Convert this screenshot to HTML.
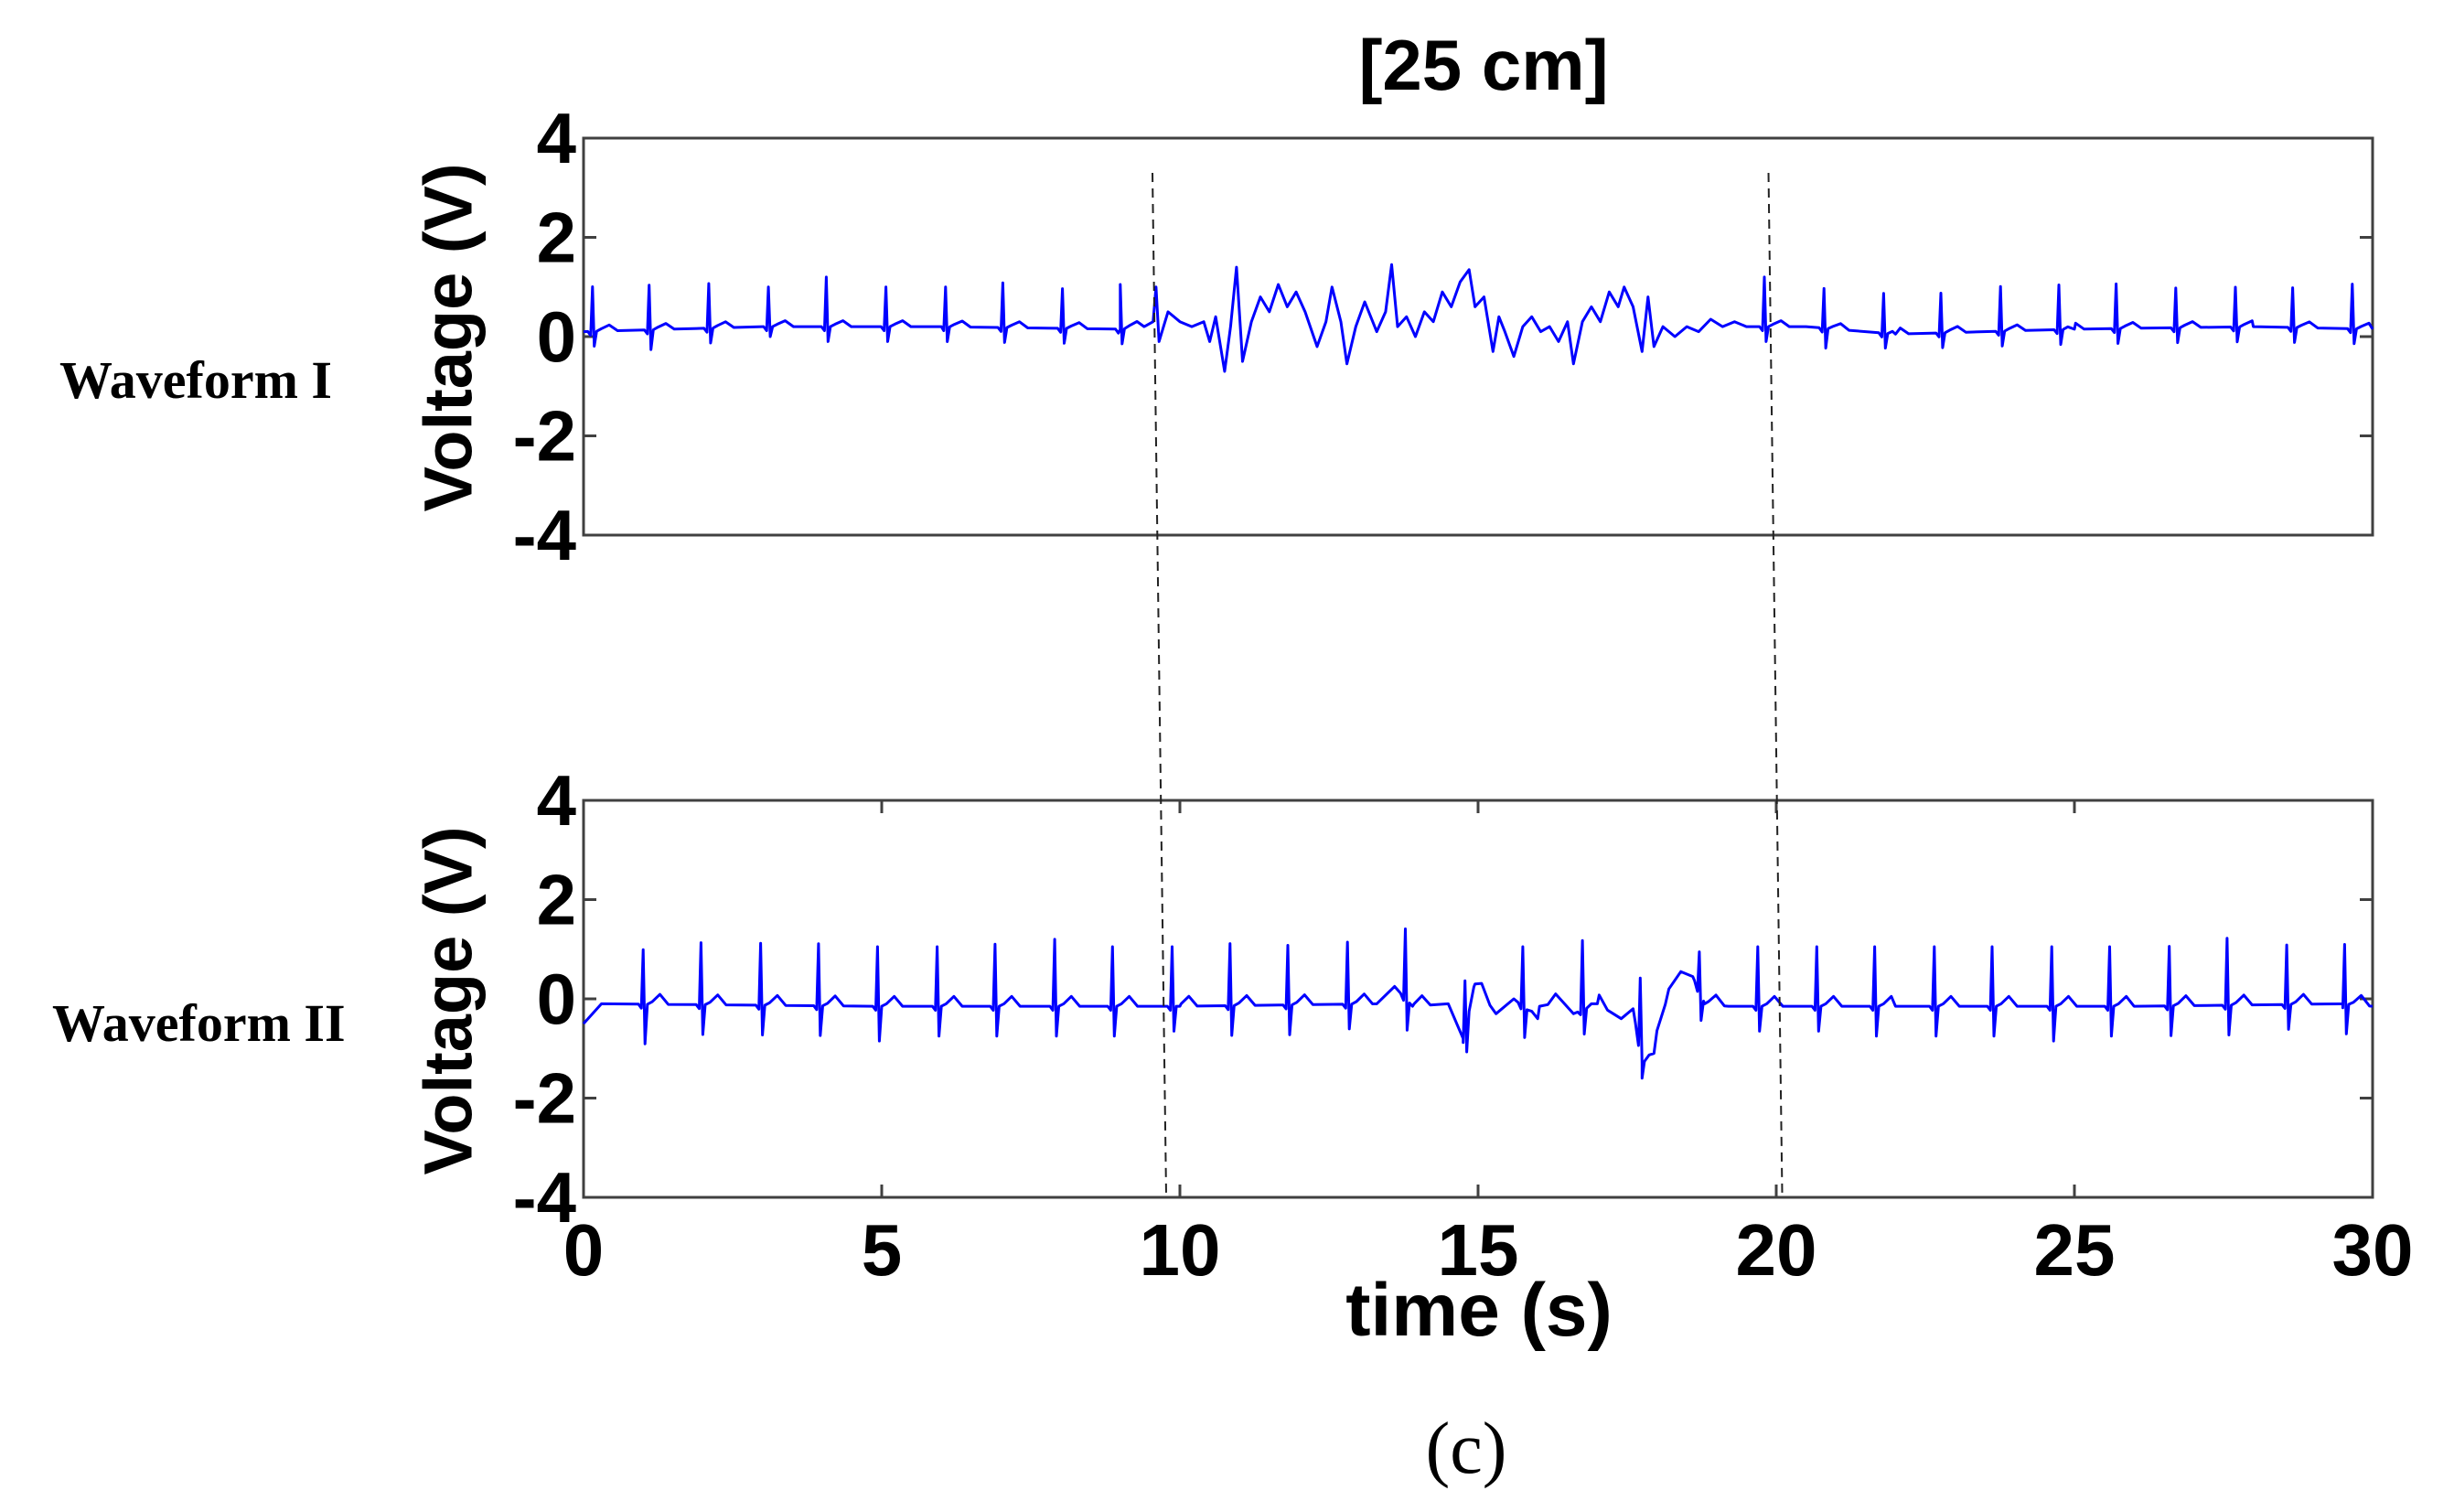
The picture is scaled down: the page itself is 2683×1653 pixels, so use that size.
<!DOCTYPE html>
<html><head><meta charset="utf-8"><style>
body{margin:0;background:#fff;}
svg{display:block;}
text{font-family:"Liberation Sans",Arial,sans-serif;font-weight:bold;fill:#000;}
.serif{font-family:"Liberation Serif","Times New Roman",serif;}
</style></head><body>
<svg id="chart" width="2683" height="1653" viewBox="0 0 2683 1653">
<text x="1622" y="98" font-size="78" text-anchor="middle">[25 cm]</text>
<text class="serif" x="65" y="435" font-size="58">Waveform I</text>
<text class="serif" x="57" y="1138" font-size="58">Waveform II</text>
<text x="490" y="369" font-size="74" text-anchor="middle" dominant-baseline="central" transform="rotate(-90 490 369)">Voltage (V)</text>
<text x="490" y="1094" font-size="74" text-anchor="middle" dominant-baseline="central" transform="rotate(-90 490 1094)">Voltage (V)</text>
<text x="1617" y="1460" font-size="82" text-anchor="middle">time (s)</text>
<text class="serif" x="1603" y="1610" font-size="80" text-anchor="middle" style="font-weight:normal">(c)</text>
<g id="plots"></g>
</svg>
<script>
// ---- data ----
const xTicks = [0, 5, 10, 15, 20, 25, 30];
const yTicks = [-4, -2, 0, 2, 4];
// Waveform I: beat times, R amplitude, S amplitude (relative to baseline)
const beatsI = [0.15, 1.1, 2.1, 3.1, 4.07, 5.07, 6.07, 7.03, 8.03, 9.0, 19.8, 20.8, 21.8, 22.76, 23.76, 24.74, 25.7, 26.7, 27.7, 28.66, 29.66];
const rampI  = [0.9, 0.9, 0.9, 0.8, 1.0, 0.8, 0.8, 0.9, 0.8, 0.9, 1.0, 0.8, 0.8, 0.8, 0.9, 0.9, 0.9, 0.8, 0.8, 0.8, 0.9];
const sampI  = [-0.3, -0.4, -0.3, -0.2, -0.3, -0.3, -0.3, -0.3, -0.3, -0.3, -0.3, -0.4, -0.3, -0.3, -0.3, -0.3, -0.3, -0.3, -0.3, -0.3, -0.3];
// Waveform I baseline / artifact points
const baseTI = [0, 3, 6, 9, 9.4, 9.55, 9.6, 9.65, 9.8, 10.0, 10.2, 10.4, 10.5, 10.6, 10.75, 10.85, 10.95, 11.05, 11.2, 11.35, 11.5, 11.65, 11.8, 11.95, 12.1, 12.3, 12.45, 12.55, 12.7, 12.8, 12.95, 13.1, 13.3, 13.45, 13.55, 13.65, 13.8, 13.95, 14.1, 14.25, 14.4, 14.55, 14.7, 14.85, 14.95, 15.1, 15.25, 15.35, 15.45, 15.6, 15.75, 15.9, 16.05, 16.2, 16.35, 16.5, 16.6, 16.75, 16.9, 17.05, 17.2, 17.35, 17.45, 17.6, 17.75, 17.85, 17.95, 18.1, 18.3, 18.5, 18.7, 18.9, 19.1, 19.3, 19.5, 20.5, 22, 25, 28, 30];
const baseVI = [0.1, 0.2, 0.2, 0.15, 0.2, 0.3, 1.0, -0.1, 0.5, 0.3, 0.2, 0.3, -0.1, 0.4, -0.7, 0.2, 1.4, -0.5, 0.3, 0.8, 0.5, 1.05, 0.6, 0.9, 0.5, -0.2, 0.3, 1.0, 0.3, -0.55, 0.2, 0.7, 0.1, 0.5, 1.45, 0.2, 0.4, 0.0, 0.5, 0.3, 0.9, 0.6, 1.1, 1.35, 0.6, 0.8, -0.3, 0.4, 0.1, -0.4, 0.2, 0.4, 0.1, 0.2, -0.1, 0.3, -0.55, 0.3, 0.6, 0.3, 0.9, 0.6, 1.0, 0.6, -0.3, 0.8, -0.2, 0.2, 0.0, 0.2, 0.1, 0.35, 0.2, 0.3, 0.2, 0.2, 0.05, 0.15, 0.2, 0.15];
// Waveform II
const beatsII = [1.0, 1.97, 2.97, 3.94, 4.93, 5.93, 6.9, 7.9, 8.87, 9.87, 10.84, 11.81, 12.81, 13.78, 14.78, 15.75, 16.75, 17.72, 18.71, 19.69, 20.68, 21.65, 22.65, 23.62, 24.62, 25.59, 26.59, 27.56, 28.56, 29.53];
const rampII = [1.1, 1.25, 1.25, 1.25, 1.2, 1.2, 1.25, 1.35, 1.2, 1.2, 1.25, 1.2, 1.25, 1.4, 1.0, 1.2, 1.4, 1.5, 0.8, 1.2, 1.2, 1.2, 1.2, 1.2, 1.2, 1.2, 1.2, 1.35, 1.2, 1.2];
const sampII = [-0.8, -0.6, -0.6, -0.6, -0.7, -0.6, -0.6, -0.6, -0.6, -0.5, -0.6, -0.6, -0.5, -0.6, -0.6, -0.6, -0.5, -0.3, -0.5, -0.5, -0.5, -0.6, -0.6, -0.6, -0.7, -0.6, -0.6, -0.6, -0.5, -0.6];
const baseTII = [0, 0.3, 5, 10, 13.3, 13.6, 13.9, 14.5, 14.75, 14.95, 15.3, 15.6, 16.0, 16.3, 16.6, 17.0, 17.4, 17.6, 17.75, 17.95, 18.2, 18.4, 18.6, 18.8, 19.2, 22, 26, 29.5, 30];
const baseVII = [-0.5, -0.1, -0.15, -0.15, -0.1, 0.25, -0.15, -0.1, -0.8, 0.3, -0.3, 0.0, -0.4, 0.1, -0.3, -0.1, -0.4, -0.2, -1.3, -1.1, 0.2, 0.55, 0.45, -0.1, -0.15, -0.15, -0.15, -0.1, -0.15];
// dashed guide lines (time at top, time at bottom)
const guideT0 = [9.54, 19.87];
const guideT1 = [9.77, 20.1];

// ---- layout ----
const X0 = 638, X1 = 2594;
const panels = [{top:151,bot:585,name:'top'},{top:875,bot:1309,name:'bottom'}];
const NS='http://www.w3.org/2000/svg';
const g=document.getElementById('plots');
function xs(t){return X0+(t/30)*(X1-X0);}
function ysF(p){return v=>(p.top+p.bot)/2 - v*(p.bot-p.top)/8;}
function mk(tag,attrs,parent){const e=document.createElementNS(NS,tag);for(const k in attrs)e.setAttribute(k,attrs[k]);(parent||g).appendChild(e);return e;}
function baseAt(T,V,t){for(let i=0;i<T.length-1;i++){if(t>=T[i]&&t<=T[i+1]){return V[i]+(V[i+1]-V[i])*(t-T[i])/(T[i+1]-T[i]);}}return V[V.length-1];}
function buildSeries(beats,R,S,T,V,tAmp){
  let pts=T.map((t,i)=>[t,V[i]]);
  beats.forEach((b,i)=>{
    const tpl=[[-0.08,0],[-0.03,-0.08],[0,R[i]],[0.03,S[i]],[0.07,0],[0.15,0.05],[0.28,tAmp],[0.42,0]];
    tpl.forEach(([dt,dv])=>{const t=b+dt;if(t>=0&&t<=30)pts.push([t,baseAt(T,V,t)+dv]);});
  });
  pts.sort((a,b)=>a[0]-b[0]);
  return pts;
}
panels.forEach((p,pi)=>{
  const ys=ysF(p);
  const ax=mk('g',{});
  
  
  mk('rect',{x:X0,y:p.top,width:X1-X0,height:p.bot-p.top,fill:'none',stroke:'#404040','stroke-width':3},ax);
  yTicks.forEach(v=>{
    const y=ys(v);
    mk('line',{x1:X0,y1:y,x2:X0+14,y2:y,stroke:'#404040','stroke-width':3},ax);
    mk('line',{x1:X1,y1:y,x2:X1-14,y2:y,stroke:'#404040','stroke-width':3},ax);
    const tx=mk('text',{x:630,y:y,'font-size':78,'text-anchor':'end','dominant-baseline':'central'},ax);
    tx.textContent=v;
    
    
  });
  if(pi===1){
    xTicks.forEach(t=>{
      const x=xs(t);
      mk('line',{x1:x,y1:p.top,x2:x,y2:p.top+14,stroke:'#404040','stroke-width':3},ax);
      mk('line',{x1:x,y1:p.bot,x2:x,y2:p.bot-14,stroke:'#404040','stroke-width':3},ax);
      const tx=mk('text',{x:x,y:1394,'font-size':80,'text-anchor':'middle'},ax);
      tx.textContent=t;
      
      
    });
  }
  const pts = pi===0 ? buildSeries(beatsI,rampI,sampI,baseTI,baseVI,0.12) : buildSeries(beatsII,rampII,sampII,baseTII,baseVII,0.2);
  const pl=mk('polyline',{points:pts.map(([t,v])=>xs(t).toFixed(1)+','+ys(v).toFixed(1)).join(' '),fill:'none',stroke:'#0000ff','stroke-width':3,'stroke-linejoin':'round'});
  
  
});
guideT0.forEach((t,i)=>{
  const l=mk('line',{x1:xs(t),y1:189,x2:xs(guideT1[i]),y2:1307,stroke:'#222','stroke-width':2,'stroke-dasharray':'10,7'});
  
  
});
</script>
</body></html>
